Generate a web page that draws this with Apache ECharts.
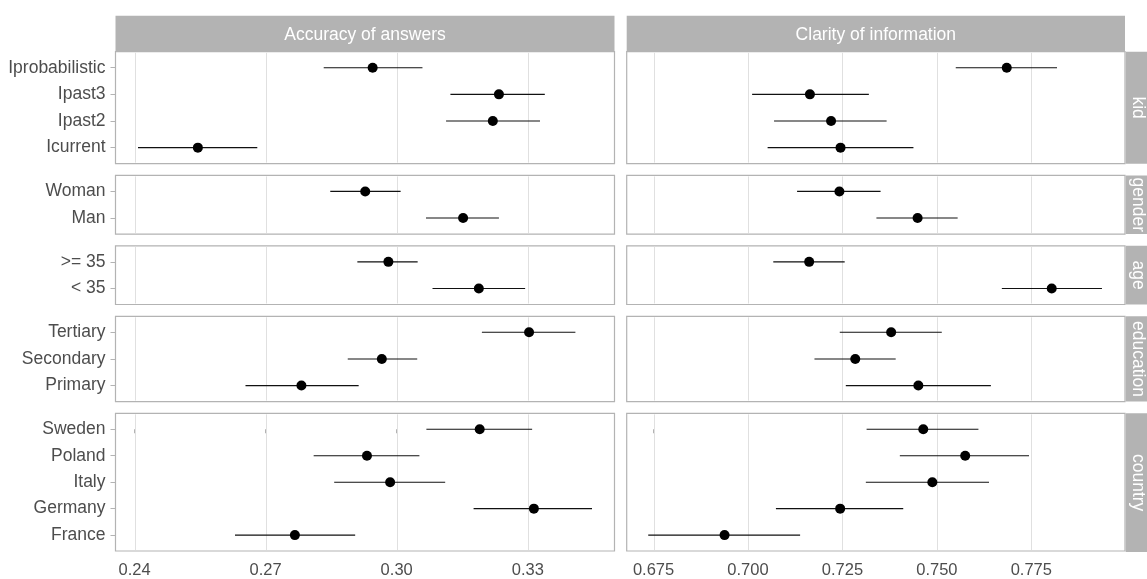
<!DOCTYPE html>
<html>
<head>
<meta charset="utf-8">
<script src="https://cdn.jsdelivr.net/npm/echarts@6/dist/echarts.min.js"></script>
<style>
  html, body { margin: 0; padding: 0; background: #ffffff; }
  #chart { width: 1147px; height: 579px; }
</style>
</head>
<body>
<div id="chart"></div>
<script>
// Facet rows (top to bottom) and the levels of each, listed top to bottom
const facetRows = ['kid', 'gender', 'age', 'education', 'country'];
const kidLevels = ['Iprobabilistic', 'Ipast3', 'Ipast2', 'Icurrent'];
const genderLevels = ['Woman', 'Man'];
const ageLevels = ['>= 35', '< 35'];
const educationLevels = ['Tertiary', 'Secondary', 'Primary'];
const countryLevels = ['Sweden', 'Poland', 'Italy', 'Germany', 'France'];

// Facet columns
const measures = ['Accuracy of answers', 'Clarity of information'];

// [estimate, lower, upper] per level
const accuracyKid = [[0.2945, 0.2833, 0.3059], [0.3234, 0.3123, 0.3339], [0.3220, 0.3113, 0.3328], [0.2545, 0.2408, 0.2681]];
const accuracyGender = [[0.2928, 0.2848, 0.3009], [0.3152, 0.3067, 0.3234]];
const accuracyAge = [[0.2981, 0.2910, 0.3048], [0.3188, 0.3082, 0.3294]];
const accuracyEducation = [[0.3303, 0.3195, 0.3409], [0.2966, 0.2888, 0.3047], [0.2782, 0.2654, 0.2913]];
const accuracyCountry = [[0.3190, 0.3068, 0.3310], [0.2932, 0.2810, 0.3052], [0.2985, 0.2857, 0.3111], [0.3314, 0.3176, 0.3447], [0.2767, 0.2630, 0.2905]];

const clarityKid = [[0.7685, 0.7550, 0.7818], [0.7164, 0.7011, 0.7320], [0.7220, 0.7069, 0.7367], [0.7245, 0.7052, 0.7438]];
const clarityGender = [[0.7242, 0.7130, 0.7351], [0.7449, 0.7340, 0.7555]];
const clarityAge = [[0.7162, 0.7067, 0.7256], [0.7804, 0.7672, 0.7937]];
const clarityEducation = [[0.7379, 0.7243, 0.7513], [0.7284, 0.7176, 0.7391], [0.7451, 0.7259, 0.7643]];
const clarityCountry = [[0.7464, 0.7314, 0.7610], [0.7575, 0.7402, 0.7744], [0.7488, 0.7312, 0.7638], [0.7244, 0.7074, 0.7411], [0.6938, 0.6736, 0.7138]];

// Tick labels on the shared x axes
const accuracyTicks = [0.24, 0.27, 0.30, 0.33];
const clarityTicks = [0.675, 0.700, 0.725, 0.750, 0.775];

// ---- layout & styling ----
const FONT = '"Liberation Sans", Arial, sans-serif';
const LABEL_SIZE = 17.5;
const TICK_SIZE = 16.5;
const colLeft = [115.5, 626.7];
const colWidth = [499, 498.3];
const xRange = [[0.23565, 0.34985], [0.6679, 0.7998]];
const tickDigits = [2, 3];
const firstTop = 51.7, unit = 26.65, gap = 11.8;
const stripTop = 15.7, stripX = 1125.7;

const levelsByRow = [kidLevels, genderLevels, ageLevels, educationLevels, countryLevels];
const valuesByCol = [
  [accuracyKid, accuracyGender, accuracyAge, accuracyEducation, accuracyCountry],
  [clarityKid, clarityGender, clarityAge, clarityEducation, clarityCountry]
];
const ticksByCol = [accuracyTicks, clarityTicks];

// panel boxes: each level takes one unit, plus 0.6 unit padding at both ends
let cursor = firstTop;
const rowBoxes = levelsByRow.map(levels => {
  const h = (levels.length + 0.2) * unit;
  const box = { top: cursor, height: h };
  cursor += h + gap;
  return box;
});

const grids = [], xAxes = [], yAxes = [], series = [], graphics = [];

levelsByRow.forEach((levels, r) => {
  const n = levels.length;
  const idx = levels.map((_, i) => i);
  const isBottom = r === levelsByRow.length - 1;
  measures.forEach((_, c) => {
    const k = grids.length;
    const isLeft = c === 0;
    grids.push({
      left: colLeft[c], top: rowBoxes[r].top,
      width: colWidth[c], height: rowBoxes[r].height,
      show: true, backgroundColor: 'transparent',
      borderColor: '#B3B3B3', borderWidth: 1.2
    });
    xAxes.push({
      gridIndex: k, type: 'value', min: xRange[c][0], max: xRange[c][1],
      axisLine: { show: false },
      splitLine: { show: false },
      axisTick: isBottom
        ? { show: true, customValues: ticksByCol[c], length: 4, lineStyle: { color: '#B3B3B3' } }
        : { show: false },
      axisLabel: isBottom
        ? {
            show: true, customValues: ticksByCol[c],
            formatter: v => Number(v).toFixed(tickDigits[c]),
            color: '#4D4D4D', fontSize: TICK_SIZE, fontFamily: FONT, margin: 11
          }
        : { show: false }
    });
    yAxes.push({
      gridIndex: k, type: 'value', inverse: true, min: -0.6, max: n - 0.4,
      axisLine: { show: false }, splitLine: { show: false },
      axisTick: isLeft
        ? { show: true, customValues: idx, length: 5, lineStyle: { color: '#B3B3B3' } }
        : { show: false },
      axisLabel: isLeft
        ? {
            show: true, customValues: idx,
            formatter: v => levels[Math.round(v)],
            color: '#4D4D4D', fontSize: LABEL_SIZE, fontFamily: FONT, margin: 10
          }
        : { show: false }
    });
    // vertical grid lines at the tick values
    series.push({
      type: 'custom', xAxisIndex: k, yAxisIndex: k, silent: true, z: 3,
      data: ticksByCol[c].map(t => [t, 0]),
      encode: { x: 0, y: 1 },
      renderItem: (params, api) => {
        const cs = params.coordSys;
        const x = Math.round(api.coord([api.value(0), 0])[0]) + 0.5;
        return {
          type: 'line',
          shape: { x1: x, y1: cs.y + 1, x2: x, y2: cs.y + cs.height - 1 },
          style: { stroke: '#E0E0E0', lineWidth: 1 }
        };
      }
    });
    const vals = valuesByCol[c][r];
    // interval whiskers
    series.push({
      type: 'custom', xAxisIndex: k, yAxisIndex: k, silent: true, z: 4,
      data: vals.map((v, i) => [i, v[0], v[1], v[2]]),
      encode: { x: [2, 3], y: 0 },
      renderItem: (params, api) => {
        const y = api.value(0);
        const a = api.coord([api.value(2), y]);
        const b = api.coord([api.value(3), y]);
        return {
          type: 'line',
          shape: { x1: a[0], y1: a[1], x2: b[0], y2: b[1] },
          style: { stroke: '#111111', lineWidth: 1.1 }
        };
      }
    });
    // point estimates
    series.push({
      type: 'scatter', xAxisIndex: k, yAxisIndex: k, silent: true, z: 5,
      symbol: 'circle', symbolSize: 10,
      itemStyle: { color: '#000000', opacity: 1 },
      data: vals.map((v, i) => [v[0], i])
    });
  });

  // right-hand facet strip
  graphics.push({
    type: 'rect', silent: true,
    shape: { x: stripX, y: rowBoxes[r].top, width: 30, height: rowBoxes[r].height },
    style: { fill: '#B3B3B3' }
  });
  graphics.push({
    type: 'text', silent: true,
    x: 1138, y: rowBoxes[r].top + rowBoxes[r].height / 2,
    rotation: -Math.PI / 2,
    style: {
      text: facetRows[r], fill: '#ffffff', font: LABEL_SIZE + 'px ' + FONT,
      align: 'center', verticalAlign: 'middle'
    }
  });
});

// top facet strips
measures.forEach((m, c) => {
  graphics.push({
    type: 'rect', silent: true,
    shape: { x: colLeft[c], y: stripTop, width: colWidth[c], height: firstTop - stripTop },
    style: { fill: '#B3B3B3' }
  });
  graphics.push({
    type: 'text', silent: true,
    x: colLeft[c] + colWidth[c] / 2, y: 35.5,
    style: {
      text: m, fill: '#ffffff', font: LABEL_SIZE + 'px ' + FONT,
      align: 'center', verticalAlign: 'middle'
    }
  });
});

const chart = echarts.init(document.getElementById('chart'), null, { renderer: 'canvas' });
chart.setOption({
  animation: false,
  backgroundColor: '#ffffff',
  grid: grids,
  xAxis: xAxes,
  yAxis: yAxes,
  series: series,
  graphic: { elements: graphics }
});
</script>
</body>
</html>
